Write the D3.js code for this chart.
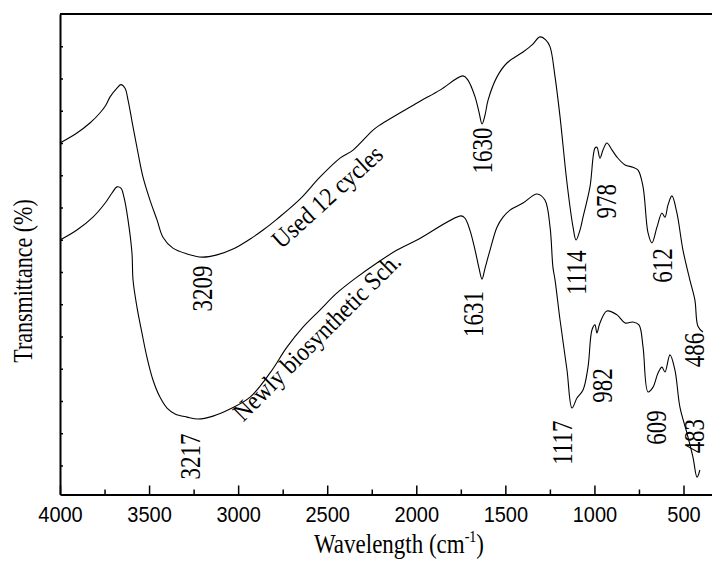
<!DOCTYPE html>
<html>
<head>
<meta charset="utf-8">
<script src="https://cdn.jsdelivr.net/npm/d3@7"></script>
<style>
  html, body { margin: 0; padding: 0; background: #fff; }
  svg { display: block; }
  .serif { font-family: "Liberation Serif", "Times New Roman", serif; fill: #000; }
  .tick text { font-family: "Liberation Sans", Arial, sans-serif; font-size: 20px; fill: #000; }
</style>
</head>
<body>
<svg id="chart" width="712" height="562"></svg>
<script>
// FTIR spectra, wavenumber (cm-1) vs transmittance (arbitrary offset units)

const usedWave = [4000, 3905, 3832, 3776, 3742, 3719, 3680, 3658, 3635, 3618, 3590, 3562, 3534, 3495,
  3455, 3422, 3366, 3287, 3203, 3119, 3029, 2917, 2860, 2782, 2653, 2541, 2428, 2355, 2243, 2204,
  1996, 1867, 1738, 1710, 1670, 1648, 1631, 1614, 1597, 1547, 1491, 1401, 1350, 1306, 1272, 1249,
  1221, 1193, 1154, 1120, 1103, 1081, 1064, 1025, 997, 986, 969, 952, 930, 901, 873, 828, 784, 755,
  727, 699, 677, 649, 621, 604, 587, 565, 537, 503, 464, 436, 419, 391];
const usedT = [10.00, 10.31, 10.62, 10.93, 11.18, 11.43, 11.70, 11.81, 11.70, 11.33, 10.50, 9.69, 8.94, 8.23,
  7.61, 7.08, 6.74, 6.56, 6.46, 6.53, 6.71, 7.08, 7.30, 7.64, 8.26, 8.94, 9.53, 9.78, 10.40, 10.56,
  11.24, 11.64, 12.08, 11.95, 11.43, 10.96, 10.59, 10.87, 11.33, 12.05, 12.48, 12.82, 13.04, 13.29, 13.19, 12.98,
  12.05, 10.81, 8.76, 7.39, 6.99, 7.30, 7.70, 8.64, 9.84, 9.87, 9.53, 9.78, 10.00, 9.78, 9.56, 9.32, 9.25, 9.16,
  8.64, 7.21, 6.90, 7.39, 7.83, 7.70, 8.08, 8.36, 7.83, 6.68, 5.75, 5.13, 4.32, 4.14];

const newWave = [4000, 3905, 3815, 3742, 3708, 3680, 3658, 3641, 3618, 3596, 3590, 3568, 3540, 3512,
  3478, 3439, 3399, 3354, 3287, 3225, 3141, 3046, 2933, 2821, 2726, 2636, 2541, 2445, 2333, 2221,
  2108, 1996, 1749, 1727, 1699, 1670, 1648, 1631, 1614, 1586, 1547, 1513, 1474, 1401, 1322, 1278,
  1249, 1233, 1221, 1193, 1154, 1126, 1098, 1064, 1036, 1014, 997, 986, 969, 930, 873, 828, 784,
  750, 727, 699, 671, 643, 621, 604, 576, 548, 520, 481, 447, 424, 408];
const newT = [6.99, 7.30, 7.70, 8.17, 8.45, 8.64, 8.60, 8.32, 7.61, 6.59, 5.75, 4.91, 4.11, 3.36,
  2.65, 2.12, 1.78, 1.60, 1.50, 1.44, 1.53, 1.75, 2.12, 2.87, 3.67, 4.29, 4.82, 5.35, 5.84, 6.28,
  6.68, 6.99, 7.74, 7.67, 7.30, 6.68, 6.12, 5.78, 6.12, 6.68, 7.39, 7.70, 7.92, 8.14, 8.42, 8.23,
  7.39, 6.15, 5.75, 4.51, 2.96, 1.78, 2.09, 2.34, 3.05, 4.20, 4.36, 4.11, 4.42, 4.79, 4.67, 4.42, 4.45,
  4.36, 3.67, 2.28, 2.43, 2.87, 3.05, 2.90, 3.43, 2.96, 1.81, 1.01, 0.26, -0.36, -0.14];

// peak annotations: text, wavenumber and transmittance of the label centre
const peakText = ['3209', '3217', '1630', '1631', '1114', '1117', '978', '982', '612', '609', '486', '483'];
const peakWave = [3197, 3265, 1626, 1676, 1101, 1176, 930, 952, 615, 649, 436, 436];
const peakT    = [5.49, 0.28, 9.77, 4.70, 5.98, 0.71, 8.19, 2.48, 6.20, 1.18, 3.58, 0.91];

// series names written along the curves
const seriesText  = ['Used 12 cycles', 'Newly biosynthetic Sch.'];
const seriesWave  = [2501, 2560];
const seriesT     = [8.34, 4.00];
const seriesAngle = [-42, -45];

const xMajor = [4000, 3500, 3000, 2500, 2000, 1500, 1000, 500];
const xMinor = [3750, 3250, 2750, 2250, 1750, 1250, 750];
const yTicks = d3.range(0, 14);

const M = { left: 60, right: 712, top: 14, bottom: 494.5 };

const svg = d3.select('#chart');

const x = d3.scaleLinear().domain([4000, 340]).range([M.left, M.right]);
const y = d3.scaleLinear().domain([-0.9, 14]).range([M.bottom, M.top]);

// ── Axes ─────────────────────────────────────────────────────────────────

const xAxis = svg.append('g')
  .attr('transform', `translate(0,${M.bottom})`)
  .call(d3.axisBottom(x).tickValues(xMajor).tickFormat(d3.format('d'))
    .tickSize(-9).tickSizeOuter(0).tickPadding(11));

svg.append('g')
  .attr('transform', `translate(0,${M.bottom})`)
  .call(d3.axisBottom(x).tickValues(xMinor).tickSize(-5).tickSizeOuter(0).tickFormat(''))
  .call(g => g.select('.domain').remove());

svg.append('g')
  .attr('transform', `translate(${M.left},0)`)
  .call(d3.axisLeft(y).tickValues(yTicks).tickSize(-3).tickSizeOuter(0).tickFormat(''));

svg.append('line')
  .attr('x1', M.left).attr('x2', M.right)
  .attr('y1', M.top).attr('y2', M.top)
  .attr('stroke', '#000').attr('stroke-width', 2);

svg.selectAll('.domain').attr('stroke', '#000').attr('stroke-width', 2);
svg.selectAll('.tick line').attr('stroke', '#000').attr('stroke-width', 1.5);
xAxis.selectAll('.tick text').attr('transform', 'scale(1,1.08)');

// ── Spectra ──────────────────────────────────────────────────────────────

const line = d3.line()
  .x(d => x(d[0]))
  .y(d => y(d[1]))
  .curve(d3.curveCatmullRom.alpha(0.5));

const series = [d3.zip(usedWave, usedT), d3.zip(newWave, newT)];

svg.append('g').selectAll('path')
  .data(series)
  .join('path')
  .attr('d', line)
  .attr('fill', 'none')
  .attr('stroke', '#000')
  .attr('stroke-width', 1.1);

// ── Labels ───────────────────────────────────────────────────────────────

svg.append('g').selectAll('text')
  .data(d3.range(peakText.length))
  .join('text')
  .attr('class', 'serif')
  .attr('font-size', 23)
  .attr('text-anchor', 'middle')
  .attr('dominant-baseline', 'central')
  .attr('transform', i => `translate(${x(peakWave[i])},${y(peakT[i])}) rotate(-90) scale(1,1.25)`)
  .text(i => peakText[i]);

svg.append('g').selectAll('text')
  .data(d3.range(seriesText.length))
  .join('text')
  .attr('class', 'serif')
  .attr('font-size', 23)
  .attr('text-anchor', 'middle')
  .attr('dominant-baseline', 'central')
  .attr('transform', i => `translate(${x(seriesWave[i])},${y(seriesT[i])}) rotate(${seriesAngle[i]}) scale(1,1.12)`)
  .text(i => seriesText[i]);

// axis titles
const xt = svg.append('text')
  .attr('class', 'serif')
  .attr('font-size', 23)
  .attr('text-anchor', 'middle')
  .attr('transform', 'translate(399,553) scale(1,1.15)');
xt.append('tspan').text('Wavelength (cm');
xt.append('tspan').attr('font-size', 14).attr('dy', -10).text('-1');
xt.append('tspan').attr('dy', 10).text(')');

svg.append('text')
  .attr('class', 'serif')
  .attr('font-size', 22)
  .attr('text-anchor', 'middle')
  .attr('transform', 'translate(32,281) rotate(-90) scale(1,1.2)')
  .text('Transmittance (%)');
</script>
</body>
</html>
